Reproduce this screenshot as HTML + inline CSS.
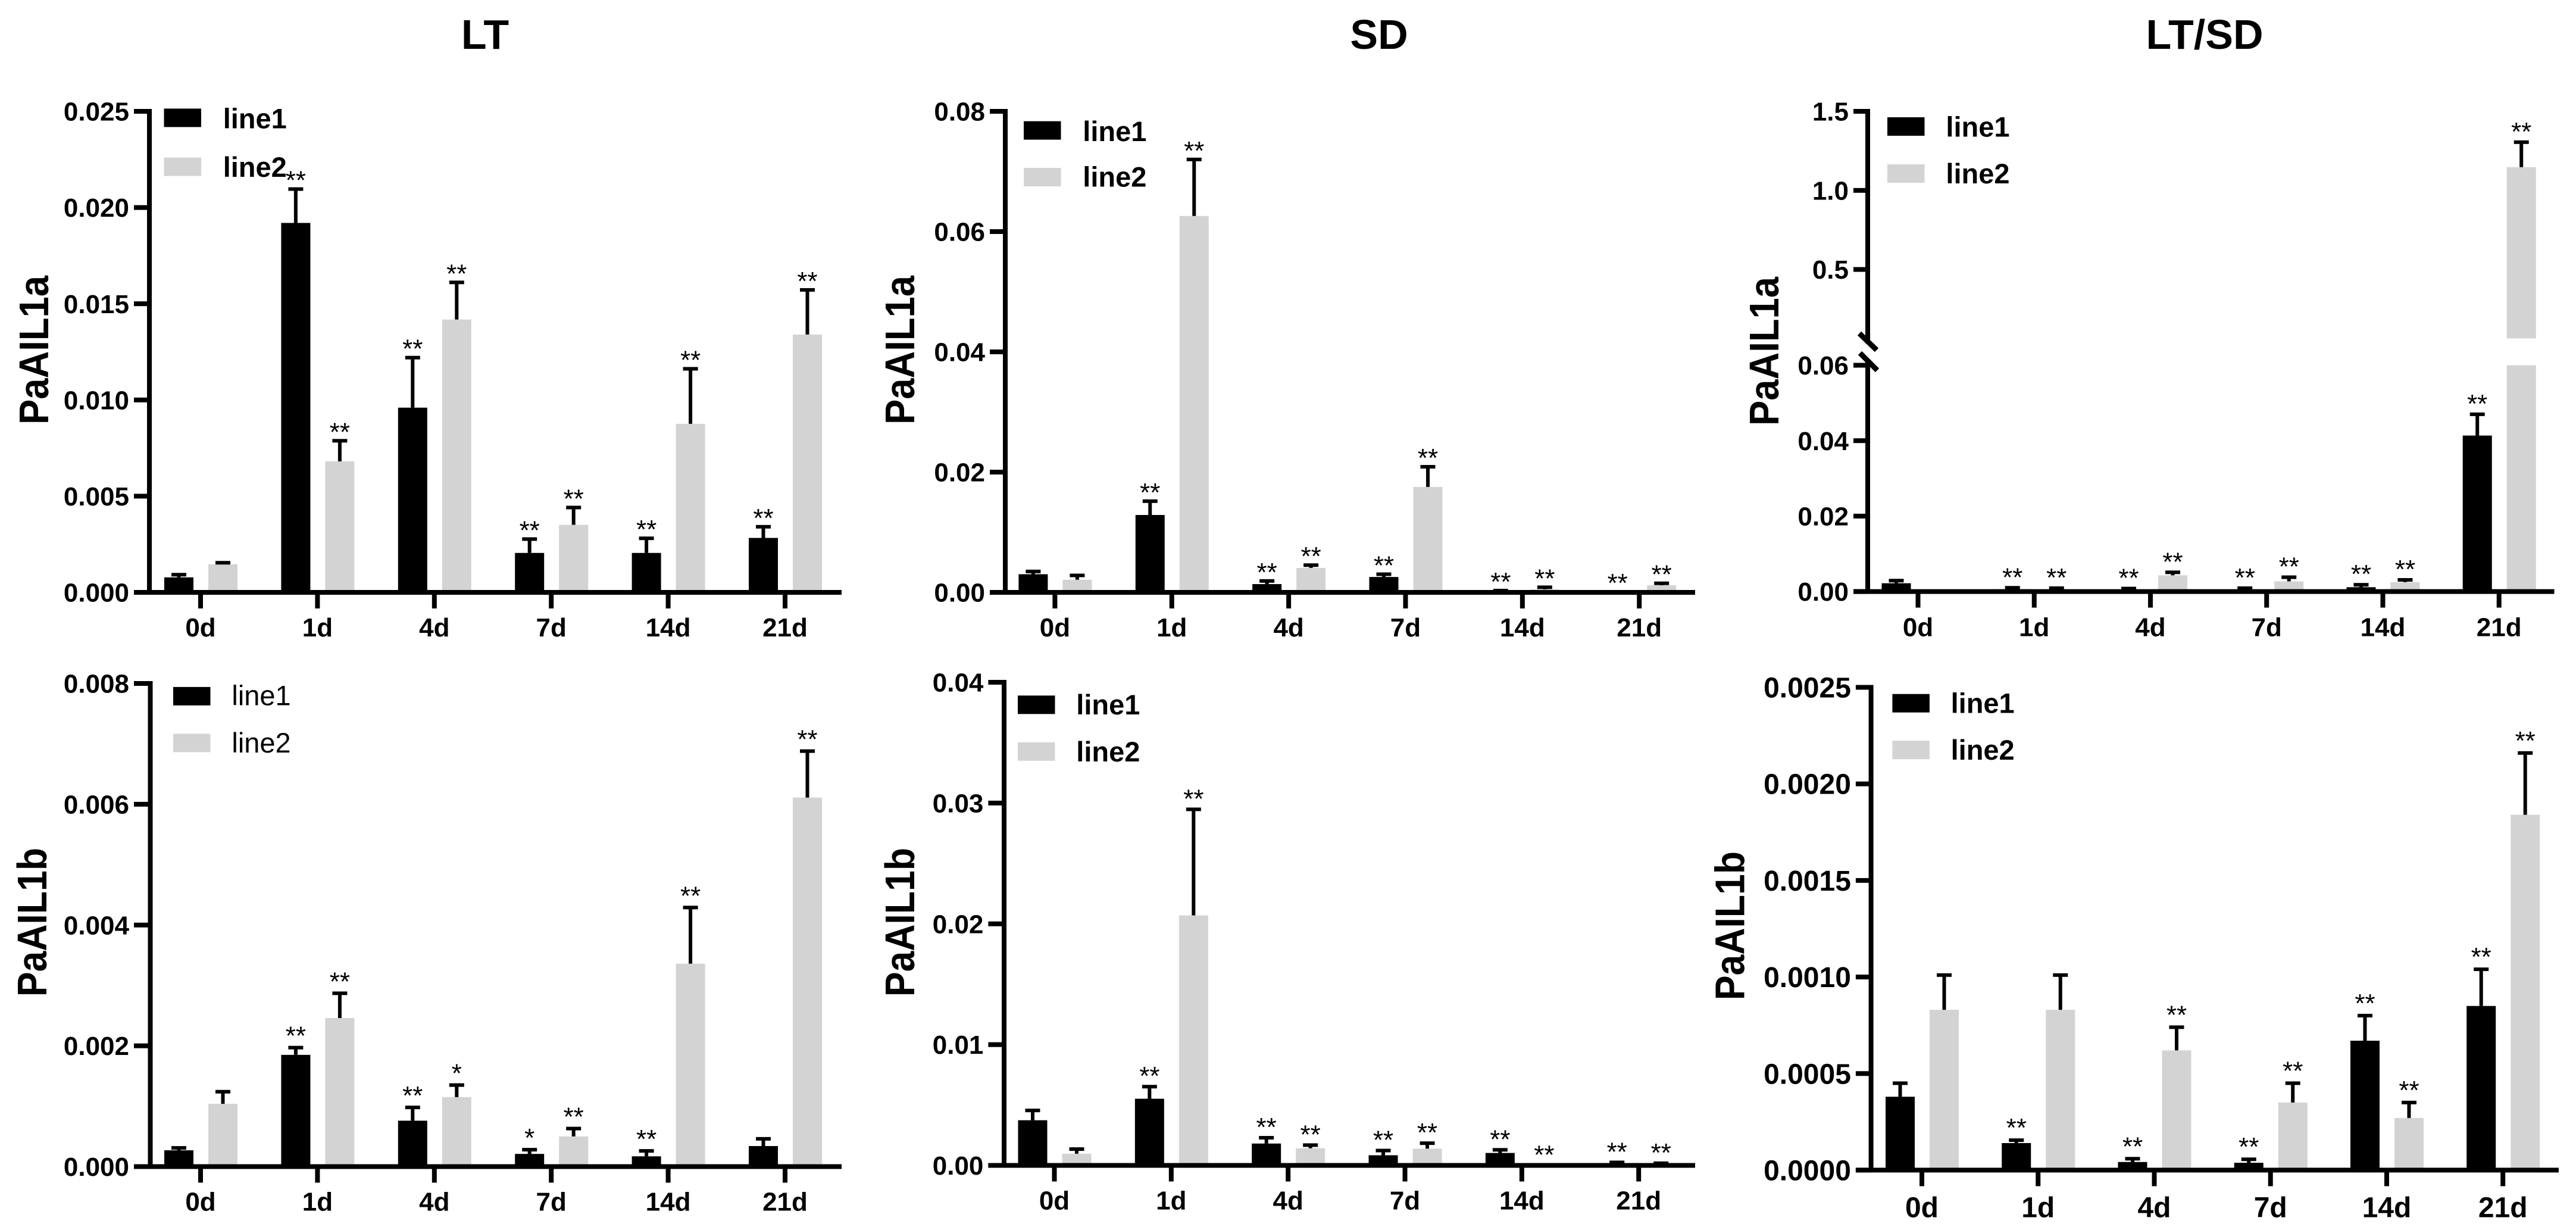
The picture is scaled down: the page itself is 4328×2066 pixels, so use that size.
<!DOCTYPE html>
<html lang="en">
<head>
<meta charset="utf-8">
<title>PaAIL1a and PaAIL1b expression under LT, SD and LT/SD</title>
<style>
  html, body { margin: 0; padding: 0; background: #ffffff; }
  body { width: 4328px; height: 2066px; overflow: hidden; }
  svg { display: block; }
  text { font-family: "Liberation Sans", Arial, sans-serif; fill: #000; }
</style>
</head>
<body>
<svg id="figure" xmlns="http://www.w3.org/2000/svg" width="4328" height="2066" viewBox="0 0 4328 2066">
  <rect x="0" y="0" width="4328" height="2066" fill="#ffffff"/>
  <text x="815" y="82" font-size="70" font-weight="700" text-anchor="middle">LT</text>
  <text x="2317" y="82" font-size="70" font-weight="700" text-anchor="middle">SD</text>
  <text x="3704" y="82" font-size="70" font-weight="700" text-anchor="middle">LT/SD</text>
</svg>
<script>
const categories = ['0d', '1d', '4d', '7d', '14d', '21d'];
const seriesNames = ['line1', 'line2'];

const ltATicks = ['0.000', '0.005', '0.010', '0.015', '0.020', '0.025'];
const ltALine1 = [0.00078, 0.0192, 0.0096, 0.00205, 0.00205, 0.00283];
const ltALine1Err = [0.00092, 0.02096, 0.0122, 0.00277, 0.00281, 0.00341];
const ltALine2 = [0.00146, 0.00681, 0.01418, 0.00351, 0.00876, 0.0134];
const ltALine2Err = [0.00154, 0.00788, 0.01611, 0.00441, 0.01162, 0.01572];
const ltAStars1 = ['', '**', '**', '**', '**', '**'];
const ltAStars2 = ['', '**', '**', '**', '**', '**'];

const sdATicks = ['0.00', '0.02', '0.04', '0.06', '0.08'];
const sdALine1 = [0.00302, 0.01287, 0.00138, 0.00256, 0.0002, 0.0001];
const sdALine1Err = [0.00348, 0.01517, 0.0019, 0.00302, 0.0003, 0.0001];
const sdALine2 = [0.0021, 0.0626, 0.00407, 0.01754, 0.0005, 0.00118];
const sdALine2Err = [0.00282, 0.072, 0.00453, 0.02089, 0.00085, 0.00151];
const sdAStars1 = ['', '**', '**', '**', '**', '**'];
const sdAStars2 = ['', '**', '**', '**', '**', '**'];

const ratioATicks = ['0.00', '0.02', '0.04', '0.06', '0.5', '1.0', '1.5'];
const ratioALine1 = [0.0022, 0.0006, 0.0005, 0.0005, 0.00115, 0.04136];
const ratioALine1Err = [0.0029, 0.001, 0.0008, 0.0009, 0.0018, 0.047];
const ratioALine2 = [0, 0.0005, 0.0043, 0.0027, 0.0025, 1.147];
const ratioALine2Err = [0, 0.0009, 0.0051, 0.0038, 0.0031, 1.305];
const ratioAStars1 = ['', '**', '**', '**', '**', '**'];
const ratioAStars2 = ['', '**', '**', '**', '**', '**'];

const ltBTicks = ['0.000', '0.002', '0.004', '0.006', '0.008'];
const ltBLine1 = [0.00027, 0.00185, 0.00076, 0.00021, 0.00017, 0.00034];
const ltBLine1Err = [0.00031, 0.00197, 0.00098, 0.00028, 0.00026, 0.00046];
const ltBLine2 = [0.00104, 0.00246, 0.00115, 0.0005, 0.00336, 0.00611];
const ltBLine2Err = [0.00124, 0.00287, 0.00135, 0.00063, 0.00429, 0.00688];
const ltBStars1 = ['', '**', '**', '*', '**', ''];
const ltBStars2 = ['', '**', '*', '**', '**', '**'];

const sdBTicks = ['0.00', '0.01', '0.02', '0.03', '0.04'];
const sdBLine1 = [0.00374, 0.00552, 0.00181, 0.00084, 0.00103, 0.00015];
const sdBLine1Err = [0.00455, 0.00652, 0.00229, 0.00123, 0.00129, 0.00025];
const sdBLine2 = [0.00097, 0.0207, 0.00142, 0.00139, 0, 0.0001];
const sdBLine2Err = [0.00135, 0.02948, 0.00168, 0.00184, 0, 0.00018];
const sdBStars1 = ['', '**', '**', '**', '**', '**'];
const sdBStars2 = ['', '**', '**', '**', '**', '**'];

const ratioBTicks = ['0.0000', '0.0005', '0.0010', '0.0015', '0.0020', '0.0025'];
const ratioBLine1 = [0.00038, 0.00014, 0.000042, 0.000038, 0.00067, 0.00085];
const ratioBLine1Err = [0.00045, 0.000155, 0.000059, 0.000056, 0.0008, 0.00104];
const ratioBLine2 = [0.00083, 0.00083, 0.00062, 0.00035, 0.00027, 0.00184];
const ratioBLine2Err = [0.00101, 0.00101, 0.00074, 0.00045, 0.00035, 0.00216];
const ratioBStars1 = ['', '**', '**', '**', '**', '**'];
const ratioBStars2 = ['', '', '**', '**', '**', '**'];

const BLACK = '#000000';
const GRAY = '#d3d3d3';
const BAR_W = 49;
const CAP_W = 25;
const AXIS_W = 8;
const STEM_W = 6;
const CAP_H = 6;

const panels = [
  { id: 'lt-a', gene: 'PaAIL1a', ticks: ltATicks, s1: ltALine1, e1: ltALine1Err, s2: ltALine2, e2: ltALine2Err, st1: ltAStars1, st2: ltAStars2,
    axisX: 251, tickLeft: 225, right: 1414, zeroY: 995, topY: 187, topV: 0.025, firstTick: 337, lastTick: 1319, labelX: 81, labelY: 588, font: 44, xGap: 74, boldLegend: true, starGap: 25,
    swatchX: 275.5, swatch1Y: 182.4, swatch2Y: 264.6, legendX: 374.7, legend1Y: 215.6, legend2Y: 297 },
  { id: 'sd-a', gene: 'PaAIL1a', ticks: sdATicks, s1: sdALine1, e1: sdALine1Err, s2: sdALine2, e2: sdALine2Err, st1: sdAStars1, st2: sdAStars2,
    axisX: 1689, tickLeft: 1663, right: 2848, zeroY: 995, topY: 187, topV: 0.08, firstTick: 1772.4, lastTick: 2754.2, labelX: 1536, labelY: 588, font: 44, xGap: 74, boldLegend: true, starGap: 25,
    swatchX: 1720, swatch1Y: 203.6, swatch2Y: 282, legendX: 1819.3, legend1Y: 236.8, legend2Y: 313.7 },
  { id: 'ratio-a', gene: 'PaAIL1a', ticks: ratioATicks, s1: ratioALine1, e1: ratioALine1Err, s2: ratioALine2, e2: ratioALine2Err, st1: ratioAStars1, st2: ratioAStars2,
    axisX: 3138, tickLeft: 3114, right: 4291.5, zeroY: 993.6, topY: 613.5, topV: 0.06, firstTick: 3222.5, lastTick: 4198.7, labelX: 2988, labelY: 590, font: 44, xGap: 75, boldLegend: true, starGap: 28,
    broken: { lowMax: 0.06, upperLowV: 0.5, upperLowY: 452.6, upperTopV: 1.5, upperTopY: 187, segmentBaseY: 568.4, upperEndY: 577, lowerStartY: 605 },
    swatchX: 3171, swatch1Y: 197, swatch2Y: 276, legendX: 3269.4, legend1Y: 229.5, legend2Y: 307.8 },
  { id: 'lt-b', gene: 'PaAIL1b', ticks: ltBTicks, s1: ltBLine1, e1: ltBLine1Err, s2: ltBLine2, e2: ltBLine2Err, st1: ltBStars1, st2: ltBStars2,
    axisX: 252.5, tickLeft: 225, right: 1414, zeroY: 1959.5, topY: 1148, topV: 0.008, firstTick: 337, lastTick: 1319, labelX: 78, labelY: 1549, font: 44, xGap: 74, boldLegend: false, starGap: 30,
    swatchX: 291, swatch1Y: 1153.9, swatch2Y: 1232.4, legendX: 389.4, legend1Y: 1184.6, legend2Y: 1263.8 },
  { id: 'sd-b', gene: 'PaAIL1b', ticks: sdBTicks, s1: sdBLine1, e1: sdBLine1Err, s2: sdBLine2, e2: sdBLine2Err, st1: sdBStars1, st2: sdBStars2,
    axisX: 1687, tickLeft: 1660.4, right: 2848, zeroY: 1957.5, topY: 1146, topV: 0.04, firstTick: 1771.5, lastTick: 2753.2, labelX: 1536, labelY: 1549, font: 44, xGap: 74, boldLegend: true, starGap: 28,
    swatchX: 1710, swatch1Y: 1168.3, swatch2Y: 1246.8, legendX: 1808.3, legend1Y: 1200, legend2Y: 1279 },
  { id: 'ratio-b', gene: 'PaAIL1b', ticks: ratioBTicks, s1: ratioBLine1, e1: ratioBLine1Err, s2: ratioBLine2, e2: ratioBLine2Err, st1: ratioBStars1, st2: ratioBStars2,
    axisX: 3143.6, tickLeft: 3117.9, right: 4298.9, zeroY: 1965.4, topY: 1154.5, topV: 0.0025, firstTick: 3229, lastTick: 4205.2, labelX: 2930.5, labelY: 1555, font: 48, xGap: 79, boldLegend: true, starGap: 31,
    swatchX: 3179.4, swatch1Y: 1165.7, swatch2Y: 1244.2, legendX: 3277.6, legend1Y: 1197.7, legend2Y: 1276 }
];

const NS = 'http://www.w3.org/2000/svg';
const figure = document.getElementById('figure');

function make(tag, attrs, parent) {
  const node = document.createElementNS(NS, tag);
  for (const key in attrs) node.setAttribute(key, attrs[key]);
  parent.appendChild(node);
  return node;
}

function yScale(p, v) {
  const b = p.broken;
  if (b && v > b.lowMax) {
    return b.upperLowY - (v - b.upperLowV) * (b.upperLowY - b.upperTopY) / (b.upperTopV - b.upperLowV);
  }
  return p.zeroY - v * (p.zeroY - p.topY) / p.topV;
}

function xScale(p, i) {
  return p.firstTick + i * (p.lastTick - p.firstTick) / (categories.length - 1);
}

function drawBar(p, g, cx, value, color, label) {
  const b = p.broken;
  if (b && value > b.lowMax) {
    const lowTop = yScale(p, b.lowMax);
    const low = make('rect', { x: cx - BAR_W / 2, y: lowTop, width: BAR_W, height: p.zeroY - lowTop, fill: color }, g);
    
    
    const upTop = yScale(p, value);
    const up = make('rect', { x: cx - BAR_W / 2, y: upTop, width: BAR_W, height: b.segmentBaseY - upTop, fill: color }, g);
    
    
    return;
  }
  const top = yScale(p, value);
  const bar = make('rect', { x: cx - BAR_W / 2, y: top, width: BAR_W, height: Math.max(0, p.zeroY - top), fill: color }, g);
  
  
}

function drawError(p, g, cx, value, errTop, label) {
  if (errTop <= value) return;
  const top = yScale(p, errTop);
  const base = yScale(p, value);
  const stem = make('rect', { x: cx - STEM_W / 2, y: top, width: STEM_W, height: Math.max(0, base - top), fill: BLACK }, g);
  
  
  const cap = make('rect', { x: cx - CAP_W / 2, y: top - CAP_H / 2, width: CAP_W, height: CAP_H, fill: BLACK }, g);
  
  
}

function drawStar(p, g, cx, errTop, star, label) {
  if (!star) return;
  const t = make('text', { x: cx, y: yScale(p, errTop) - p.starGap + 25, 'font-size': 44, 'text-anchor': 'middle' }, g);
  t.textContent = star;
  
  
}

panels.forEach(function (p) {
  const g = make('g', {}, figure);
  
  

  categories.forEach(function (day, i) {
    const tick = xScale(p, i);
    const c1 = tick - 36.5;
    const c2 = tick + 37.5;
    const name1 = p.id + '-bar-' + day + '-line1';
    const name2 = p.id + '-bar-' + day + '-line2';
    drawBar(p, g, c2, p.s2[i], GRAY, name2);
    drawBar(p, g, c1, p.s1[i], BLACK, name1);
    drawError(p, g, c1, p.s1[i], p.e1[i], name1);
    drawError(p, g, c2, p.s2[i], p.e2[i], name2);
    drawStar(p, g, c1, p.e1[i], p.st1[i], name1);
    drawStar(p, g, c2, p.e2[i], p.st2[i], name2);

    const xt = make('rect', { x: tick - AXIS_W / 2, y: p.zeroY, width: AXIS_W, height: 27, fill: BLACK }, g);
    
    
    const xl = make('text', { x: tick, y: p.zeroY + p.xGap, 'font-size': p.font, 'font-weight': 700, 'text-anchor': 'middle' }, g);
    xl.textContent = day;
    
    
  });

  const xAxis = make('rect', { x: p.tickLeft, y: p.zeroY - AXIS_W / 2, width: p.right - p.tickLeft, height: AXIS_W, fill: BLACK }, g);
  
  

  if (p.broken) {
    const up = make('rect', { x: p.axisX - AXIS_W / 2, y: p.broken.upperTopY - AXIS_W / 2, width: AXIS_W, height: p.broken.upperEndY - p.broken.upperTopY + AXIS_W / 2, fill: BLACK }, g);
    
    
    const low = make('rect', { x: p.axisX - AXIS_W / 2, y: p.broken.lowerStartY, width: AXIS_W, height: p.zeroY - p.broken.lowerStartY, fill: BLACK }, g);
    
    
    const slash1 = make('line', { x1: p.axisX - 14, y1: p.broken.upperEndY - 17, x2: p.axisX + 15, y2: p.broken.upperEndY + 11, stroke: BLACK, 'stroke-width': 9 }, g);
    
    
    const slash2 = make('line', { x1: p.axisX - 13, y1: p.broken.lowerStartY - 12, x2: p.axisX + 16, y2: p.broken.lowerStartY + 17, stroke: BLACK, 'stroke-width': 9 }, g);
    
    
  } else {
    const yAxis = make('rect', { x: p.axisX - AXIS_W / 2, y: p.topY - AXIS_W / 2, width: AXIS_W, height: p.zeroY - p.topY + AXIS_W / 2, fill: BLACK }, g);
    
    
  }

  p.ticks.forEach(function (label) {
    const ty = yScale(p, parseFloat(label));
    const mark = make('rect', { x: p.tickLeft, y: ty - AXIS_W / 2, width: p.axisX - p.tickLeft, height: AXIS_W, fill: BLACK }, g);
    
    
    const text = make('text', { x: p.tickLeft - 8, y: ty + p.font * 0.355, 'font-size': p.font, 'font-weight': 700, 'text-anchor': 'end' }, g);
    text.textContent = label;
    
    
  });

  const title = make('text', { transform: 'translate(' + p.labelX + ',' + p.labelY + ') rotate(-90)', 'font-size': 70, 'font-weight': 700, 'text-anchor': 'middle', textLength: 250, lengthAdjust: 'spacingAndGlyphs' }, g);
  title.textContent = p.gene;
  
  

  seriesNames.forEach(function (series, k) {
    const sy = k === 0 ? p.swatch1Y : p.swatch2Y;
    const ly = k === 0 ? p.legend1Y : p.legend2Y;
    const swatch = make('rect', { x: p.swatchX, y: sy, width: 62.5, height: 31, fill: k === 0 ? BLACK : GRAY }, g);
    
    
    const legendText = make('text', { x: p.legendX, y: ly, 'font-size': 47, 'font-weight': p.boldLegend ? 700 : 400 }, g);
    legendText.textContent = series;
    
    
  });
});
</script>
</body>
</html>
